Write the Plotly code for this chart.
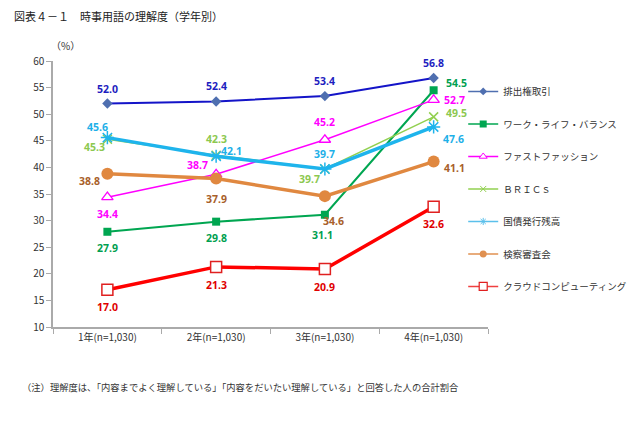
import plotly.graph_objects as go

categories = ["1年(n=1,030)", "2年(n=1,030)", "3年(n=1,030)", "4年(n=1,030)"]

s_emission = [52.0, 52.4, 53.4, 56.8]
s_wlb = [27.9, 29.8, 31.1, 54.5]
s_fast = [34.4, 38.7, 45.2, 52.7]
s_brics = [45.3, 42.3, 39.7, 49.5]
s_bond = [45.6, 42.1, 39.7, 47.6]
s_inquest = [38.8, 37.9, 34.6, 41.1]
s_cloud = [17.0, 21.3, 20.9, 32.6]

names = ["排出権取引", "ワーク・ライフ・バランス", "ファストファッション", "ＢＲＩＣｓ",
         "国債発行残高", "検察審査会", "クラウドコンピューティング"]

series = [s_emission, s_wlb, s_fast, s_brics, s_bond, s_inquest, s_cloud]

styles = [
    dict(line=dict(color="#1414C8", width=2), marker=dict(symbol="diamond", size=8, color="#4F6FB0")),
    dict(line=dict(color="#00A651", width=2), marker=dict(symbol="square", size=8, color="#00A651")),
    dict(line=dict(color="#FF00FF", width=1.5), marker=dict(symbol="triangle-up", size=10, color="white", line=dict(color="#FF00FF", width=1.3))),
    dict(line=dict(color="#92D050", width=1.5), marker=dict(symbol="x-thin", size=9, color="#92D050", line=dict(color="#92D050", width=1.5))),
    dict(line=dict(color="#1EB4EC", width=3.5), marker=dict(symbol="asterisk", size=11, color="#1EB4EC", line=dict(color="#1EB4EC", width=1.5))),
    dict(line=dict(color="#E08840", width=3.5), marker=dict(symbol="circle", size=12, color="#E08840")),
    dict(line=dict(color="#FF0000", width=3.5), marker=dict(symbol="square", size=11, color="white", line=dict(color="#E02020", width=1.5))),
]

legend_styles = [
    dict(line=dict(color="#4F6FB0", width=1.5), marker=dict(symbol="diamond", size=6, color="#4F6FB0")),
    dict(line=dict(color="#00A651", width=1.5), marker=dict(symbol="square", size=7, color="#00A651")),
    dict(line=dict(color="#FF00FF", width=1.5), marker=dict(symbol="triangle-up", size=7, color="white", line=dict(color="#FF00FF", width=1))),
    dict(line=dict(color="#92D050", width=1.5), marker=dict(symbol="x-thin", size=6, color="#92D050", line=dict(color="#92D050", width=1))),
    dict(line=dict(color="#5BC0EB", width=1.5), marker=dict(symbol="asterisk", size=6, color="#5BC0EB", line=dict(color="#5BC0EB", width=1))),
    dict(line=dict(color="#E09050", width=1.5), marker=dict(symbol="circle", size=7, color="#E09050")),
    dict(line=dict(color="#F04040", width=1.5), marker=dict(symbol="square", size=8, color="white", line=dict(color="#E02020", width=1.2))),
]

label_colors = ["#1E1EC0", "#00A050", "#FF00FF", "#8CC850", "#1EB0E8", "#A8602A", "#E00000"]

# label offsets (xshift, yshift) in pixels for each series/category
offsets = [
    [(0, 15), (0, 15), (0, 15), (0, 15)],
    [(0, -16), (0, -16), (-2, -20), (23, 7)],
    [(0, -17), (-19, 9), (0, 18), (21, 0)],
    [(-13, -8), (0, 16), (-15, -10), (23, 4)],
    [(-10, 11), (15, 5), (0, 15), (20, -12)],
    [(-18, -7), (0, -20), (9, -25), (21, -6)],
    [(0, -17), (0, -18), (0, -18), (0, -17)],
]

fig = go.Figure()
for i, (nm, vals, st) in enumerate(zip(names, series, styles)):
    fig.add_trace(go.Scatter(
        x=categories, y=vals, name=nm, mode="lines+markers",
        line=st["line"], marker=st["marker"], showlegend=False,
    ))
for i, (nm, st) in enumerate(zip(names, legend_styles)):
    fig.add_trace(go.Scatter(
        x=[None], y=[None], name=nm, mode="lines+markers",
        line=st["line"], marker=st["marker"], legendgroup=f"g{i}", showlegend=True,
    ))

annotations = []
for i, vals in enumerate(series):
    for j, v in enumerate(vals):
        dx, dy = offsets[i][j]
        annotations.append(dict(
            x=categories[j], y=v, text=f"<b>{v:.1f}</b>", showarrow=False,
            xshift=dx, yshift=dy, font=dict(size=10.5, color=label_colors[i], family="Noto Sans"),
        ))

annotations.append(dict(xref="paper", yref="paper", x=0.0, y=1.0, yshift=6, xshift=-4,
                        text="（%）", showarrow=False, xanchor="left", yanchor="bottom",
                        font=dict(size=10, color="#333", family="Noto Sans CJK JP")))
annotations.append(dict(xref="paper", yref="paper", x=(20 - 53) / 435, y=-(387 - 327) / 266,
                        text="（注）理解度は、「内容までよく理解している」「内容をだいたい理解している」と回答した人の合計割合",
                        showarrow=False, xanchor="left", yanchor="middle",
                        font=dict(size=9.3, color="#333", family="Noto Sans CJK JP")))

fig.update_layout(
    width=640, height=426,
    margin=dict(l=53, r=152, t=61, b=99, autoexpand=False),
    paper_bgcolor="white", plot_bgcolor="white",
    title=dict(text="図表４－１　時事用語の理解度（学年別）", x=14 / 640, xanchor="left",
               y=1 - 17 / 426, yanchor="middle", yref="container",
               font=dict(size=11, color="#222", family="Noto Sans CJK JP")),
    font=dict(family="Noto Sans CJK JP", color="#333"),
    annotations=annotations,
    showlegend=True,
    legend=dict(x=0.943, xanchor="left", y=0.94, yanchor="top",
                font=dict(size=9.5, color="#333"), tracegroupgap=13.5,
                traceorder="grouped", bgcolor="rgba(0,0,0,0)"),
    xaxis=dict(type="category", range=[-0.5, 3.5], showgrid=False, showline=True,
               linecolor="#AAAAAA", linewidth=1.5, ticks="outside", tickson="boundaries",
               ticklen=5, tickcolor="#AAAAAA", tickfont=dict(size=10, color="#333")),
    yaxis=dict(range=[10, 60], dtick=5, showgrid=False, showline=True, linecolor="#AAAAAA",
               linewidth=1.5, ticks="outside", ticklen=5, tickcolor="#AAAAAA",
               tickfont=dict(size=10, color="#333"), zeroline=False),
)

fig.write_html("out.html", config={"displayModeBar": False},
               post_script="document.body.style.margin='0';")
